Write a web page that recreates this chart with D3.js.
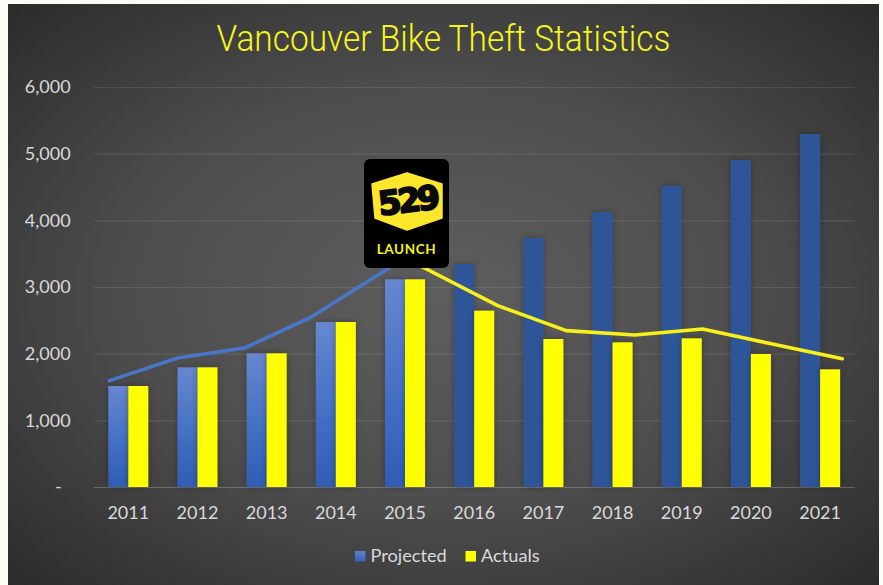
<!DOCTYPE html>
<html><head><meta charset="utf-8">
<script src="https://cdn.jsdelivr.net/npm/d3@7"></script>
<style>
html,body{margin:0;padding:0;background:#fbfcf5;overflow:hidden}
svg{display:block}
text{font-family:Lato,"Open Sans",sans-serif}
</style></head><body>
<svg id="c" width="883" height="585"></svg>
<script>
const titleText = "Vancouver Bike Theft Statistics";
const years = [2011,2012,2013,2014,2015,2016,2017,2018,2019,2020,2021];
const projected = [1515,1795,2005,2475,3115,3345,3735,4120,4515,4905,5295];
const actuals   = [1515,1795,2005,2475,3115,2645,2220,2170,2230,1995,1765];
const yTicks = [0,1000,2000,3000,4000,5000,6000];
const seriesNames = ["Projected","Actuals"];
// Overlaid trend line: position along the year axis, and value
const trendBlueYears  = [2010.73,2011.71,2012.68,2013.62,2015];
const trendBlueValues = [1595,1935,2085,2535,3435];
const trendYellowYears  = [2015,2016.34,2017.33,2018.32,2019.30,2020.31,2021.32];
const trendYellowValues = [3435,2720,2345,2280,2370,2145,1925];

const W=883,H=585;
const m={l:93.7,r:854.7,t:87,b:487};
const svg=d3.select("#c");
const defs=svg.append("defs");

const bg=defs.append("radialGradient").attr("id","bg").attr("cx","50%").attr("cy","50%").attr("r","72%");
[[0,"#5e5e5e"],[0.5,"#4d4d4d"],[1,"#2a2a2a"]].forEach(s=>bg.append("stop").attr("offset",s[0]).attr("stop-color",s[1]));
const bb=defs.append("linearGradient").attr("id","barGrad").attr("x1",0).attr("y1",0).attr("x2",0).attr("y2",1);
[[0,"#6787cf"],[0.55,"#4470c4"],[1,"#2f5db3"]].forEach(s=>bb.append("stop").attr("offset",s[0]).attr("stop-color",s[1]));
const lg=defs.append("linearGradient").attr("id","legGrad").attr("x1",0).attr("y1",0).attr("x2",0).attr("y2",1);
[[0,"#5f82cc"],[1,"#3263b8"]].forEach(s=>lg.append("stop").attr("offset",s[0]).attr("stop-color",s[1]));
const sh=defs.append("filter").attr("id","shadow").attr("x","-40%").attr("y","-10%").attr("width","180%").attr("height","120%");
sh.append("feDropShadow").attr("dx",0).attr("dy",0).attr("stdDeviation",3).attr("flood-color","#000").attr("flood-opacity",0.3);
const gl=defs.append("filter").attr("id","glow").attr("x","-10%").attr("y","-30%").attr("width","120%").attr("height","160%");
gl.append("feGaussianBlur").attr("stdDeviation",0.5);

svg.append("rect").attr("x",8).attr("y",4).attr("width",871).attr("height",581).attr("fill","url(#bg)");

svg.append("text").attr("x",443.5).attr("y",50.5).attr("text-anchor","middle")
 .attr("fill","#f6f61c").attr("font-size",37.5).attr("font-weight",300)
 .style("font-family","Roboto").attr("textLength",454).attr("lengthAdjust","spacingAndGlyphs").text(titleText);

const x=d3.scaleBand().domain(years).range([m.l,m.r]);
const xYear=d3.scaleLinear().domain([2011,2021]).range([x(2011)+x.bandwidth()/2,x(2021)+x.bandwidth()/2]);
const y=d3.scaleLinear().domain([0,6000]).range([m.b,m.t]);
const barW=20;

const yAxis=svg.append("g").attr("transform",`translate(${m.l},0)`)
 .call(d3.axisLeft(y).tickValues(yTicks).tickSize(-(m.r-m.l)).tickPadding(23).tickFormat(v=>v===0?"-":d3.format(",")(v)));
yAxis.select(".domain").remove();
yAxis.selectAll("line").attr("stroke","#ffffff").attr("stroke-opacity",0.1).attr("stroke-width",1.2);
yAxis.selectAll("text").attr("fill","#d9d9d9").attr("font-size",18);
yAxis.selectAll(".tick").filter(v=>v===0).select("text").attr("dx",-9);

const xAxis=svg.append("g").attr("transform",`translate(0,${m.b})`)
 .call(d3.axisBottom(x).tickSize(0).tickPadding(19));
xAxis.select(".domain").attr("stroke","#ffffff").attr("stroke-opacity",0.14);
xAxis.selectAll("text").attr("fill","#d9d9d9").attr("font-size",18);

const rows=years.map((yr,i)=>({yr,p:projected[i],a:actuals[i]}));
const g=svg.append("g");
g.selectAll("rect.p").data(rows).join("rect").attr("class","p")
 .attr("x",d=>x(d.yr)+x.bandwidth()/2-barW).attr("width",barW)
 .attr("y",d=>y(d.p)).attr("height",d=>y(0)-y(d.p))
 .attr("fill",d=>d.p===d.a?"url(#barGrad)":"#2f5597").attr("filter","url(#shadow)");
g.selectAll("rect.a").data(rows).join("rect").attr("class","a")
 .attr("x",d=>x(d.yr)+x.bandwidth()/2).attr("width",barW)
 .attr("y",d=>y(d.a)).attr("height",d=>y(0)-y(d.a))
 .attr("fill","#ffff00").attr("filter","url(#shadow)");

const line=d3.line().x(d=>xYear(d[0])).y(d=>y(d[1]));
svg.append("path").attr("d",line(d3.zip(trendBlueYears,trendBlueValues)))
 .attr("fill","none").attr("stroke","#4a76c8").attr("stroke-width",3.6).attr("stroke-linecap","round").attr("stroke-linejoin","round").attr("filter","url(#glow)");
svg.append("path").attr("d",line(d3.zip(trendYellowYears,trendYellowValues)))
 .attr("fill","none").attr("stroke","#f8f01a").attr("stroke-width",3.6).attr("stroke-linecap","round").attr("stroke-linejoin","round").attr("filter","url(#glow)");

// Logo badge
const logo=svg.append("g");
logo.append("rect").attr("x",364).attr("y",159).attr("width",85).attr("height",109).attr("rx",6).attr("fill","#000");
logo.append("path").attr("d","M372,184L407,173L442,184L442,218L407,230L375,218Z").attr("fill","#fde72d").attr("stroke","#fde72d").attr("stroke-width",1.5).attr("stroke-linejoin","round");
logo.append("text").attr("x",407.5).attr("y",212).attr("text-anchor","middle").attr("fill","#0a0a0a")
 .attr("font-size",33).attr("font-weight",700).style("font-family","DejaVu Sans")
 .attr("letter-spacing",-3.5).attr("stroke","#0a0a0a").attr("stroke-width",2).attr("stroke-linejoin","round")
 .attr("transform","rotate(-7 407 201)").text("529");
logo.append("text").attr("x",406.5).attr("y",254).attr("text-anchor","middle").attr("fill","#f6f01c")
 .attr("font-size",13.5).attr("font-weight",700).style("letter-spacing","0.6px").text("LAUNCH");

// Legend
const legend=svg.append("g");
const legendItems=[{n:seriesNames[0],sx:355,tx:370.5,f:"url(#legGrad)"},{n:seriesNames[1],sx:465.5,tx:481,f:"#ffff00"}];
legend.selectAll("rect").data(legendItems).join("rect").attr("x",d=>d.sx).attr("y",551).attr("width",10.5).attr("height",10.5).attr("fill",d=>d.f);
legend.selectAll("text").data(legendItems).join("text").attr("x",d=>d.tx).attr("y",561.5).attr("fill","#d9d9d9").attr("font-size",18.2).text(d=>d.n);
</script></body></html>
